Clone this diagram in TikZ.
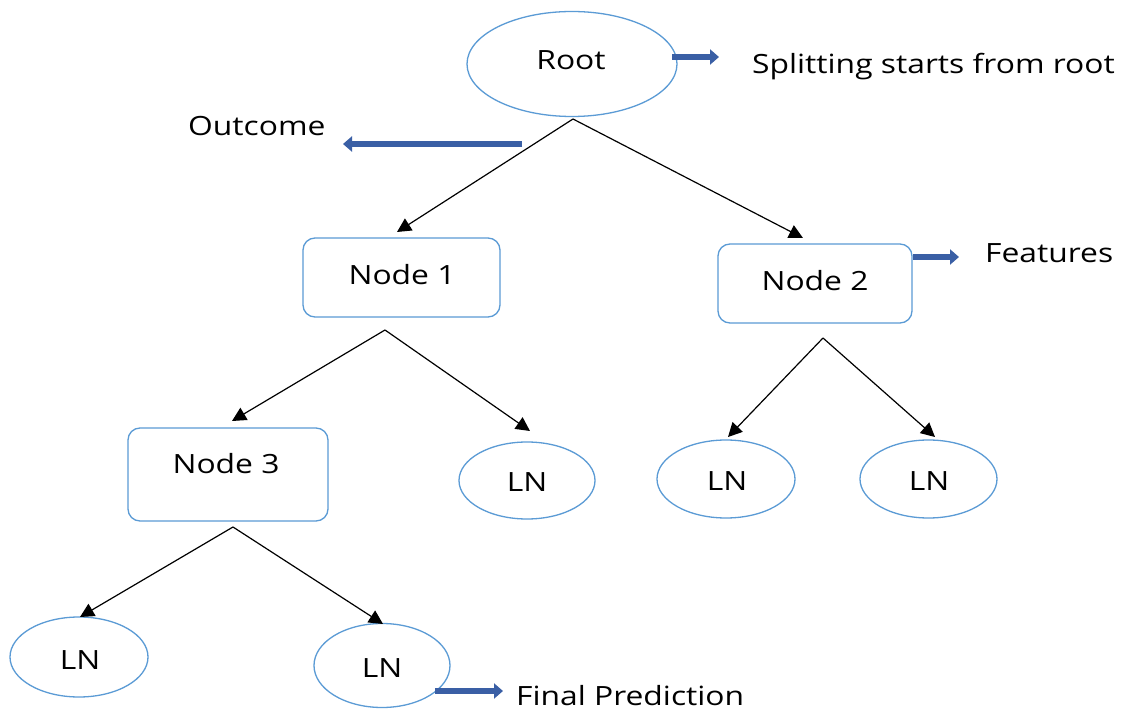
\documentclass[tikz,border=0pt]{standalone}
\usepackage{fontspec}
\setmainfont[FakeStretch=1.2]{Open Sans}
\usetikzlibrary{shapes.geometric,arrows.meta}
\definecolor{edgeblue}{HTML}{5B9BD5}
\definecolor{arrblue}{HTML}{3A5FA5}
\tikzset{
  ell/.style={ellipse,draw=edgeblue,line width=1.3pt,inner sep=0pt},
  box/.style={rectangle,rounded corners=12pt,draw=edgeblue,line width=1.3pt,inner sep=0pt},
  txt/.style={inner sep=0pt,anchor=base,font=\fontsize{26.5}{30}\selectfont},
  lbl/.style={inner sep=0pt,anchor=base west,font=\fontsize{26.5}{30}\selectfont},
  conn/.style={draw=black,line width=1.2pt,-{Triangle[length=14pt,width=14pt]}},
  barrow/.style={draw=arrblue,line width=6pt,-{Triangle[length=9pt,width=15pt]}}
}
\begin{document}
\begin{tikzpicture}[x=1pt,y=-1pt]
\useasboundingbox[fill=white] (0,0) rectangle (1128,711);
% shapes
\node[ell,minimum width=210pt,minimum height=105pt] (root) at (572,64) {};
\node[box,minimum width=197pt,minimum height=79pt] (n1) at (401.5,277.5) {};
\node[box,minimum width=194pt,minimum height=79pt] (n2) at (815,283.5) {};
\node[box,minimum width=200pt,minimum height=93pt] (n3) at (228,474.5) {};
\node[ell,minimum width=136pt,minimum height=77pt] (ln1) at (527,480.5) {};
\node[ell,minimum width=138pt,minimum height=78pt] (ln2) at (726,479) {};
\node[ell,minimum width=137pt,minimum height=78pt] (ln3) at (928.5,479) {};
\node[ell,minimum width=138pt,minimum height=80pt] (ln4) at (79,657) {};
\node[ell,minimum width=136pt,minimum height=84pt] (ln5) at (382,665.5) {};
% texts inside shapes
\node[txt] (troot) at (571,70) {Root};
\node[txt] (tn1) at (402,285) {Node 1};
\node[txt] (tn2) at (815,291) {Node 2};
\node[txt] (tn3) at (226,473) {Node 3};
\node[txt] (tln1) at (527,491) {LN};
\node[txt] (tln2) at (727,490) {LN};
\node[txt] (tln3) at (929,490) {LN};
\node[txt] (tln4) at (80,669) {LN};
\node[txt] (tln5) at (382,677) {LN};
% labels
\node[lbl] (tsplit) at (752,74) {Splitting starts from root};
\node[lbl] (tout) at (188,136) {Outcome};
\node[lbl] (tfeat) at (985,263) {Features};
\node[lbl] (tfinal) at (516,705) {Final Prediction};
% split points
\coordinate (r0) at (573,119);
\coordinate (s1) at (385,330);
\coordinate (s2) at (823,338);
\coordinate (s3) at (233,527);
\coordinate (e1) at (397,232);
\coordinate (e2) at (803,238);
\coordinate (e3) at (232,421);
\coordinate (e4) at (530,431);
\coordinate (e5) at (728,437);
\coordinate (e6) at (935,437);
\coordinate (e7) at (80,617);
\coordinate (e8) at (383,624);
\draw[conn] (r0) -- (e1);
\draw[conn] (r0) -- (e2);
\draw[conn] (s1) -- (e3);
\draw[conn] (s1) -- (e4);
\draw[conn] (s2) -- (e5);
\draw[conn] (s2) -- (e6);
\draw[conn] (s3) -- (e7);
\draw[conn] (s3) -- (e8);
% blue arrows
\coordinate (b1s) at (672,57);   \coordinate (b1e) at (719,57);
\coordinate (b2s) at (522,144);  \coordinate (b2e) at (343,144);
\coordinate (b3s) at (913,257);  \coordinate (b3e) at (959,257);
\coordinate (b4s) at (435,691);  \coordinate (b4e) at (503,691);
\draw[barrow] (b1s) -- (b1e);
\draw[barrow] (b2s) -- (b2e);
\draw[barrow] (b3s) -- (b3e);
\draw[barrow] (b4s) -- (b4e);
\end{tikzpicture}
\end{document}
